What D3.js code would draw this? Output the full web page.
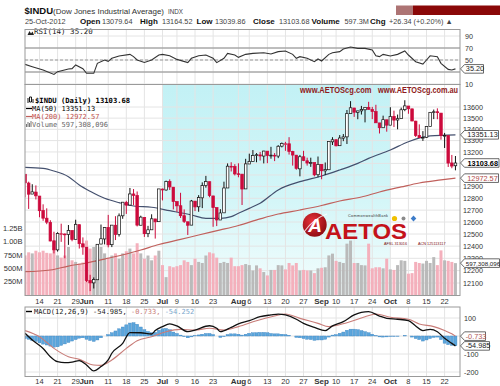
<!DOCTYPE html>
<html>
<head>
<meta charset="utf-8">
<script src="https://cdn.jsdelivr.net/npm/d3@7/dist/d3.min.js"></script>
<style>
html,body{margin:0;padding:0;background:#fff;}
svg{display:block;}
text{font-family:"Liberation Sans",Arial,sans-serif;}
.mono{font-family:"DejaVu Sans Mono",monospace;}
</style>
</head>
<body>
<svg id="chart" width="500" height="386"></svg>
<script>
// ---------------- DATA ----------------
const dates = ["05-08","05-09","05-10","05-11","05-14","05-15","05-16","05-17","05-18","05-21","05-22","05-23","05-24","05-25","05-29","05-30","05-31","06-01","06-04","06-05","06-06","06-07","06-08","06-11","06-12","06-13","06-14","06-15","06-18","06-19","06-20","06-21","06-22","06-25","06-26","06-27","06-28","06-29","07-02","07-03","07-05","07-06","07-09","07-10","07-11","07-12","07-13","07-16","07-17","07-18","07-19","07-20","07-23","07-24","07-25","07-26","07-27","07-30","07-31","08-01","08-02","08-03","08-06","08-07","08-08","08-09","08-10","08-13","08-14","08-15","08-16","08-17","08-20","08-21","08-22","08-23","08-24","08-27","08-28","08-29","08-30","08-31","09-04","09-05","09-06","09-07","09-10","09-11","09-12","09-13","09-14","09-17","09-18","09-19","09-20","09-21","09-24","09-25","09-26","09-27","09-28","10-01","10-02","10-03","10-04","10-05","10-08","10-09","10-10","10-11","10-12","10-15","10-16","10-17","10-18","10-19","10-22","10-23","10-24","10-25"];
const opens = [13006,12930,12836,12853,12819,12696,12632,12597,12444,12369,12502,12500,12496,12529,12456,12578,12419,12391,12119,12101,12126,12417,12459,12555,12412,12573,12496,12652,12766,12743,12837,12823,12573,12639,12503,12535,12626,12603,12879,12871,12943,12895,12772,12737,12653,12602,12574,12776,12728,12804,12908,12942,12820,12721,12617,12677,12888,13075,13073,13010,13007,12880,13095,13117,13168,13174,13164,13207,13170,13171,13164,13251,13272,13272,13203,13172,13053,13158,13123,13104,13107,13002,13092,13035,13045,13289,13308,13255,13321,13333,13540,13591,13552,13565,13575,13597,13577,13559,13457,13414,13485,13437,13516,13483,13495,13576,13609,13583,13473,13346,13326,13329,13424,13551,13557,13545,13344,13344,13104,13079.64];
const highs = [13006,12942,12920,12910,12819,12749,12715,12615,12519,12515,12586,12505,12575,12530,12619,12578,12472,12391,12166,12145,12415,12579,12556,12660,12574,12649,12672,12767,12779,12888,12879,12858,12653,12640,12568,12665,12626,12880,12883,12951,12962,12895,12772,12847,12706,12602,12786,12777,12827,12936,12992,12942,12822,12721,12708,12942,13100,13110,13093,13101,13007,13140,13185,13217,13190,13200,13210,13207,13245,13190,13260,13283,13289,13330,13210,13173,13174,13210,13150,13150,13107,13160,13092,13108,13293,13330,13308,13349,13358,13573,13653,13592,13566,13610,13597,13647,13601,13620,13457,13522,13485,13598,13567,13532,13594,13661,13609,13586,13476,13444,13384,13425,13552,13577,13588,13545,13368,13344,13174,13164.52];
const lows = [12809,12710,12836,12790,12640,12610,12582,12440,12340,12355,12435,12300,12410,12440,12456,12380,12329,12107,12035,12056,12126,12416,12414,12390,12392,12450,12479,12627,12668,12741,12741,12563,12573,12476,12474,12535,12462,12603,12782,12865,12871,12706,12685,12634,12592,12492,12574,12692,12686,12717,12891,12809,12560,12566,12617,12677,12888,13030,12996,12980,12743,12880,13095,13117,13110,13125,13100,13102,13141,13120,13146,13240,13210,13177,13081,13045,12988,13120,13081,13070,12988,12980,12963,13000,13045,13261,13249,13255,13295,13270,13538,13511,13490,13532,13462,13577,13491,13457,13363,13414,13379,13437,13420,13400,13495,13562,13539,13473,13332,13326,13297,13324,13424,13491,13490,13308,13235,13069,13058,13039.86];
const closes = [12932,12835,12855,12821,12695,12632,12599,12442,12369,12504,12503,12496,12530,12455,12581,12420,12393,12119,12101,12128,12415,12461,12554,12411,12574,12496,12652,12767,12742,12837,12824,12574,12641,12503,12535,12627,12602,12880,12871,12944,12897,12772,12736,12653,12605,12573,12777,12727,12806,12909,12943,12823,12721,12617,12676,12888,13076,13073,13009,13008,12879,13096,13118,13169,13176,13165,13208,13169,13172,13165,13250,13275,13272,13204,13173,13057,13158,13125,13103,13107,13001,13091,13036,13047,13292,13307,13254,13323,13333,13540,13593,13553,13565,13578,13597,13579,13559,13458,13414,13486,13437,13515,13482,13495,13575,13610,13584,13474,13345,13326,13329,13424,13552,13557,13549,13344,13346,13103,13077,13103.68];
const prevClose0 = 13008.53;
const volumes = [742,800,780,830,800,830,790,780,873,742,700,740,900,650,620,590,610,1020,870,900,650,900,780,700,740,780,680,780,820,870,780,970,780,680,740,650,740,830,560,335,540,520,540,560,650,620,560,680,620,600,740,800,780,700,600,620,600,700,540,540,560,580,560,460,555,500,430,367,470,470,560,555,480,600,555,600,460,470,460,460,410,500,510,520,742,775,640,620,600,962,1020,600,600,560,555,962,500,520,520,500,680,480,470,560,650,640,400,410,620,600,590,640,600,710,560,836,650,640,620,597.3];

const ma50Dates = ["05-08","05-15","05-18","05-24","05-30","06-04","06-08","06-14","06-20","06-27","07-05","07-13","07-19","07-25","07-30","08-01","08-06","08-09","08-16","08-24","09-04","09-11","09-18","09-21","10-01","10-08","10-16","10-25"];
const ma50Vals = [13066,13057,13034,12985,12914,12860,12800,12763,12735,12724,12695,12659,12631,12631,12645,12673,12715,12758,12871,12942,12991,13043,13100,13144,13217,13290,13341,13351.13];
const ma200Dates = ["05-08","05-17","05-24","06-01","06-08","06-18","06-22","06-29","07-10","07-17","07-25","08-01","08-09","08-16","08-24","09-04","09-11","09-19","09-26","10-04","10-11","10-19","10-25"];
const ma200Vals = [12191,12205,12237,12262,12294,12335,12368,12413,12455,12492,12534,12571,12626,12667,12701,12739,12777,12811,12854,12897,12931,12957,12972.57];

const rsiDates = ["05-08","05-10","05-15","05-18","05-21","05-24","05-25","05-29","05-31","06-01","06-05","06-06","06-08","06-11","06-12","06-14","06-19","06-20","06-21","06-25","06-27","06-29","07-02","07-05","07-09","07-12","07-13","07-17","07-19","07-23","07-24","07-26","07-27","07-31","08-01","08-03","08-07","08-10","08-14","08-16","08-20","08-22","08-23","08-24","08-28","08-30","08-31","09-04","09-06","09-07","09-11","09-12","09-14","09-18","09-20","09-24","09-25","09-26","09-27","10-01","10-03","10-05","10-08","10-10","10-12","10-15","10-16","10-18","10-19","10-23","10-24","10-25"];
const rsiVals = [42.8,38.9,33.3,26,30.6,35,35.6,41.7,35.6,27.8,27.8,44.4,50,47.8,52.8,56.7,59.4,55.6,50,46,50,58.3,59.4,57,51,45.6,52.8,57,58.3,52.8,45.6,52.8,61,58.3,54.4,59.4,61,62.2,60,63.9,65,59.4,52.8,55.6,52.8,47.2,51.7,48.3,59.4,62,63.9,68.3,71.7,69.4,69.4,66.7,57,55.6,59.4,56.7,59.4,65,58.3,47.2,43.3,50,57,55.6,44.4,34.4,33.3,35.2];

const macdDates = ["05-08","05-10","05-15","05-17","05-21","05-23","05-25","05-30","06-01","06-05","06-07","06-11","06-12","06-15","06-19","06-22","06-27","06-28","07-02","07-05","07-09","07-12","07-16","07-20","07-24","07-25","07-30","08-01","08-06","08-09","08-14","08-16","08-20","08-23","08-27","08-30","09-05","09-07","09-12","09-17","09-19","09-21","09-26","09-28","10-03","10-08","10-10","10-12","10-16","10-18","10-22","10-24","10-25"];
const macdVals = [15,-22,-69,-115,-143,-148,-145,-137,-161,-194,-170,-133,-96,-41,19,18,11,30,52,67,56,24,33,57,43,24,48,67,85,107,117,122,117,93,70,48,30,56,80,117,131,135,111,98,93,85,56,30,37,24,-13,-41,-54.985];
const signalDates = ["05-08","05-14","05-18","05-24","05-30","06-05","06-07","06-12","06-18","06-21","06-27","07-03","07-10","07-16","07-20","07-26","08-01","08-08","08-15","08-20","08-24","08-31","09-06","09-13","09-20","09-25","10-01","10-08","10-11","10-17","10-22","10-24","10-25"];
const signalVals = [30,-4,-69,-115,-130,-161,-163,-133,-69,-26,-4,24,37,33,43,33,52,85,111,122,98,70,52,74,107,122,104,93,67,52,30,12,-0.733];
const histVals = [-15,-18,-25,-30,-38,-45,-50,-56,-62,-60,-52,-44,-36,-28,-20,-12,-10,-18,-25,-30,-22,-10,0,8,18,28,40,50,62,72,74,65,50,35,25,18,20,32,40,42,35,22,14,5,-4,-10,-5,2,6,10,14,14,8,0,-8,-4,8,12,12,10,5,10,15,18,18,20,20,18,14,12,12,10,8,4,0,-8,-10,-14,-18,-20,-24,-22,-22,-18,-6,5,8,15,22,32,38,38,35,30,24,18,10,2,-5,-6,-5,-3,-3,-2,0,3,0,-6,-14,-20,-28,-22,-14,-8,-6,-20,-40,-48,-52,-54.252];

const tickDates = ["05-14","05-21","05-29","06-01","06-11","06-18","06-25","07-02","07-09","07-16","07-23","08-01","08-06","08-13","08-20","08-27","09-04","09-10","09-17","09-24","10-01","10-08","10-15","10-22"];
const tickLabels = ["14","21","29","Jun","11","18","25","Jul","9","16","23","Aug","6","13","20","27","Sep","10","17","24","Oct","8","15","22"];
const priceTicks = [12100,12200,12300,12400,12500,12600,12700,12800,12900,13000,13100,13200,13300,13400,13500,13600];
const priceTickLabels = [12100,12200,12300,12400,12500,12600,12700,12800,12900,13200,13300,13400,13500,13600];
const volTicks = [250,500,750,1000,1250];
const volTickLabels = ["250M","500M","750M","1.00B","1.25B"];
const rsiTicks = [10,30,50,70,90];
const rsiTickLabels = [10,50,70,90];
const macdTicks = [100,-100,-200];
const shadeRange = ["07-02","10-01"];

// ---------------- LAYOUT ----------------
const L = 25, R = 460;
const rsiTop = 29.5, rsiBot = 84.5, mainTop = 84.5, mainBot = 295.5, macdTop = 307, macdBot = 376.5;

const svg = d3.select("#chart");
const defs = svg.append("defs");

const x = d3.scalePoint().domain(dates).range([25.03, 455.45]);
const yP = d3.scaleLog().domain([12100, 13600]).range([283, 107]);
const yV = d3.scaleLinear().domain([0, 1250]).range([295, 228.3]);
const yR = d3.scaleLinear().domain([0, 100]).range([90, 30]);
const yM = d3.scaleLinear().domain([-100, 100]).range([354, 318]);

function clip(id, y0, y1) {
  defs.append("clipPath").attr("id", id).append("rect")
    .attr("x", L).attr("y", y0).attr("width", R - L).attr("height", y1 - y0);
}
clip("cRsi", rsiTop, rsiBot); clip("cMain", mainTop, mainBot); clip("cMacd", macdTop, macdBot);

const gr = defs.append("linearGradient").attr("id", "cyan").attr("x1", 0).attr("y1", 0).attr("x2", 0).attr("y2", 1);
gr.append("stop").attr("offset", "0%").attr("stop-color", "#c2f1f5");
gr.append("stop").attr("offset", "55%").attr("stop-color", "#d4f6f8");
gr.append("stop").attr("offset", "100%").attr("stop-color", "#f4fdfd");

const rg = defs.append("radialGradient").attr("id", "logoRed").attr("cx", "40%").attr("cy", "35%").attr("r", "70%");
rg.append("stop").attr("offset", "0%").attr("stop-color", "#e8323a");
rg.append("stop").attr("offset", "100%").attr("stop-color", "#8c0a10");

const ohlc = dates.map((d, i) => ({
  d, o: opens[i], h: highs[i], l: lows[i], c: closes[i], v: volumes[i],
  pc: i ? closes[i - 1] : prevClose0
}));
const RED = "#cc0a3c";
const GRID = "#e4e4e4";
const BORDER = "#9a9a9a";

function vgrid(g, y0, y1) {
  g.append("g").selectAll("line").data(tickDates).join("line")
    .attr("x1", d => x(d)).attr("x2", d => x(d)).attr("y1", y0).attr("y2", y1)
    .attr("stroke", GRID).attr("stroke-width", 1);
}

// ---------------- MAIN PANEL ----------------
const gMain = svg.append("g");
gMain.append("rect").attr("x", x(shadeRange[0])).attr("y", mainTop)
  .attr("width", x(shadeRange[1]) - x(shadeRange[0])).attr("height", mainBot - mainTop)
  .attr("fill", "url(#cyan)");
gMain.append("g").selectAll("line").data(priceTicks).join("line")
  .attr("x1", L).attr("x2", R).attr("y1", d => yP(d)).attr("y2", d => yP(d))
  .attr("stroke", GRID);
vgrid(gMain, mainTop, mainBot);

const mainClip = gMain.append("g").attr("clip-path", "url(#cMain)");
mainClip.append("g").selectAll("rect").data(ohlc).join("rect")
  .attr("x", d => x(d.d) - 1.5).attr("width", 3)
  .attr("y", d => yV(d.v)).attr("height", d => yV(0) - yV(d.v))
  .attr("fill", d => d.c < d.pc ? "#f4b0bc" : "#bababa");

// logo
const logo = gMain.append("g");
logo.append("circle").attr("cx", 314.7).attr("cy", 224.7).attr("r", 12).attr("fill", "url(#logoRed)");
logo.append("path").attr("d", "M304,232 Q314,218 327,214").attr("fill", "none").attr("stroke", "#fff").attr("stroke-width", 1.2).attr("opacity", 0.8);
logo.append("text").attr("x", 315).attr("y", 232).attr("text-anchor", "middle")
  .attr("font-size", 19).attr("font-weight", "bold").attr("font-style", "italic").attr("fill", "#fff").text("A");
logo.append("text").attr("x", 325).attr("y", 238.5).attr("font-size", 22).attr("font-weight", "bold")
  .attr("fill", "#c4121a").attr("textLength", 82).attr("lengthAdjust", "spacingAndGlyphs").text("AETOS");
logo.append("text").attr("x", 348).attr("y", 217.3).attr("font-size", 3.8).attr("fill", "#333")
  .attr("textLength", 40).text("CommonwealthBank");
logo.append("circle").attr("cx", 394.5).attr("cy", 218.5).attr("r", 2.6).attr("fill", "#f0c000");
logo.append("circle").attr("cx", 403.5).attr("cy", 218.5).attr("r", 2).attr("fill", "#8a8a8a");
logo.append("path").attr("d", "M413.5,215.5 L416.3,218.5 L413.5,221.5 L410.7,218.5 Z").attr("fill", "#3d7cc9");
logo.append("text").attr("x", 384).attr("y", 245).attr("font-size", 3.8).attr("fill", "#7a0a10").text("AFSL 313016");
logo.append("text").attr("x", 418).attr("y", 245).attr("font-size", 3.8).attr("fill", "#7a0a10").text("ACN 125113117");

// moving averages
const lineP = d3.line().x(d => x(d[0])).y(d => yP(d[1])).curve(d3.curveMonotoneX);
mainClip.append("path").datum(ma200Dates.map((d, i) => [d, ma200Vals[i]]))
  .attr("d", lineP).attr("fill", "none").attr("stroke", "#c0605c").attr("stroke-width", 1.2);
mainClip.append("path").datum(ma50Dates.map((d, i) => [d, ma50Vals[i]]))
  .attr("d", lineP).attr("fill", "none").attr("stroke", "#44506e").attr("stroke-width", 1.2);

// candles
const cw = 2.6;
const cg = mainClip.append("g").selectAll("g").data(ohlc).join("g");
cg.append("line").attr("x1", d => x(d.d)).attr("x2", d => x(d.d))
  .attr("y1", d => yP(d.h)).attr("y2", d => yP(d.l))
  .attr("stroke", d => d.c >= d.pc ? "#111" : RED).attr("stroke-width", 1);
cg.append("rect").attr("x", d => x(d.d) - cw / 2).attr("width", cw)
  .attr("y", d => yP(Math.max(d.o, d.c)))
  .attr("height", d => Math.max(0.8, yP(Math.min(d.o, d.c)) - yP(Math.max(d.o, d.c))))
  .attr("fill", d => d.c >= d.o ? "#fff" : (d.c >= d.pc ? "#111" : RED))
  .attr("stroke", d => d.c >= d.pc ? "#111" : RED).attr("stroke-width", 0.7);

// watermark (horizontally condensed)
gMain.append("text").attr("transform", "translate(300,93) scale(0.837,1)").attr("font-size", 9).attr("font-weight", "bold")
  .attr("fill", "#8e1a20").text("www.AETOScg.com");
gMain.append("text").attr("transform", "translate(378,93) scale(0.815,1)").attr("font-size", 9).attr("font-weight", "bold")
  .attr("fill", "#8e1a20").text("www.AETOScg.com.au");

// legend main
const lg = gMain.append("g").attr("class", "mono").attr("font-size", 7);
lg.append("path").attr("d", "M28,98 v5 M29.5,97 h2 v5 h-2z M33,99 v4").attr("stroke", "#000").attr("fill", "none").attr("stroke-width", 0.9);
lg.append("text").attr("class", "mono").attr("x", 35).attr("y", 103).attr("font-weight", "bold").attr("font-size", 7.2).attr("fill", "#000").text("$INDU (Daily) 13103.68");
lg.append("line").attr("x1", 26).attr("x2", 32).attr("y1", 108.5).attr("y2", 108.5).attr("stroke", "#000").attr("stroke-width", 1.2);
lg.append("text").attr("class", "mono").attr("x", 32).attr("y", 111).attr("font-size", 7).attr("fill", "#000").text("MA(50) 13351.13");
lg.append("line").attr("x1", 26).attr("x2", 32).attr("y1", 116.5).attr("y2", 116.5).attr("stroke", "#c0605c").attr("stroke-width", 1.2);
lg.append("text").attr("class", "mono").attr("x", 32).attr("y", 119).attr("font-size", 7).attr("fill", "#c0504c").text("MA(200) 12972.57");
lg.append("path").attr("d", "M26.5,127 v-3 M28,127 v-5 M29.5,127 v-4 M31,127 v-6").attr("stroke", "#777").attr("stroke-width", 1);
lg.append("text").attr("class", "mono").attr("x", 32).attr("y", 127).attr("font-size", 7).attr("fill", "#666").text("Volume 597,308,096");

// ---------------- RSI PANEL ----------------
const gR = svg.append("g");
gR.append("g").selectAll("line").data(rsiTicks).join("line")
  .attr("x1", L).attr("x2", R).attr("y1", d => yR(d)).attr("y2", d => yR(d)).attr("stroke", GRID);
vgrid(gR, rsiTop, rsiBot);
gR.append("line").attr("x1", L).attr("x2", R).attr("y1", yR(70)).attr("y2", yR(70)).attr("stroke", "#8a8a8a").attr("stroke-width", 1);
gR.append("line").attr("x1", L).attr("x2", R).attr("y1", yR(30)).attr("y2", yR(30)).attr("stroke", "#8a8a8a").attr("stroke-width", 1);
gR.append("line").attr("x1", L).attr("x2", R).attr("y1", yR(50)).attr("y2", yR(50)).attr("stroke", "#999").attr("stroke-dasharray", "3,2");
gR.append("g").attr("clip-path", "url(#cRsi)").append("path")
  .datum(rsiDates.map((d, i) => [d, rsiVals[i]]))
  .attr("d", d3.line().x(d => x(d[0])).y(d => yR(d[1])))
  .attr("fill", "none").attr("stroke", "#333").attr("stroke-width", 1.1);
gR.append("path").attr("d", "M27.5,35 l2,-4 l1.5,2.5 l1.5,-2 l1.5,3.5 z").attr("fill", "#222");
gR.append("text").attr("class", "mono").attr("x", 34).attr("y", 33.5).attr("font-size", 7.5).attr("fill", "#222").text("RSI(14) 35.20");

// ---------------- MACD PANEL ----------------
const gM = svg.append("g");
gM.append("g").selectAll("line").data([100, 0, -100, -200]).join("line")
  .attr("x1", L).attr("x2", R).attr("y1", d => yM(d)).attr("y2", d => yM(d)).attr("stroke", GRID);
vgrid(gM, macdTop, macdBot);
const mClip = gM.append("g").attr("clip-path", "url(#cMacd)");
mClip.append("g").selectAll("rect").data(dates).join("rect")
  .attr("x", d => x(d) - 1.5).attr("width", 3)
  .attr("y", (d, i) => Math.min(yM(0), yM(histVals[i])))
  .attr("height", (d, i) => Math.abs(yM(histVals[i]) - yM(0)))
  .attr("fill", "#5ba6dc").attr("stroke", "#3f86c2").attr("stroke-width", 0.4);
const lineM = d3.line().x(d => x(d[0])).y(d => yM(d[1])).curve(d3.curveMonotoneX);
mClip.append("path").datum(signalDates.map((d, i) => [d, signalVals[i]]))
  .attr("d", lineM).attr("fill", "none").attr("stroke", "#c87c78").attr("stroke-width", 1.1);
mClip.append("path").datum(macdDates.map((d, i) => [d, macdVals[i]]))
  .attr("d", lineM).attr("fill", "none").attr("stroke", "#111").attr("stroke-width", 1.3);
gM.append("line").attr("x1", 26).attr("x2", 32).attr("y1", 311.5).attr("y2", 311.5).attr("stroke", "#000").attr("stroke-width", 1.4);
const mt = gM.append("text").attr("class", "mono").attr("x", 34).attr("y", 314).attr("font-size", 7);
mt.append("tspan").attr("fill", "#222").text("MACD(12,26,9) -54.985,");
mt.append("tspan").attr("fill", "#c87c78").text(" -0.733,");
mt.append("tspan").attr("fill", "#7aa6cc").text(" -54.252");

// ---------------- BORDERS ----------------
[[rsiTop, rsiBot], [mainTop, mainBot], [macdTop, macdBot]].forEach(([a, b]) => {
  svg.append("rect").attr("x", L).attr("y", a).attr("width", R - L).attr("height", b - a)
    .attr("fill", "none").attr("stroke", BORDER).attr("stroke-width", 1);
});

// ---------------- AXES ----------------
function dateAxis(yb) {
  const g = svg.append("g");
  g.selectAll("text").data(tickDates).join("text")
    .attr("x", d => x(d)).attr("y", yb).attr("text-anchor", "middle")
    .attr("font-size", (d, i) => /[A-Z]/.test(tickLabels[i]) ? 8 : 7.5)
    .attr("font-weight", (d, i) => /[A-Z]/.test(tickLabels[i]) ? "bold" : "normal")
    .attr("fill", "#333").text((d, i) => tickLabels[i]);
}
dateAxis(303.5);
dateAxis(383.5);

const ra = svg.append("g").attr("font-size", 7.2).attr("fill", "#333");
ra.selectAll(".p").data(priceTickLabels).join("text").attr("x", 463).attr("y", d => yP(d) + 2.6).text(d => d);
ra.selectAll(".r").data(rsiTickLabels).join("text").attr("x", 465).attr("y", d => yR(d) + 2.6).text(d => d);
ra.selectAll(".m").data(macdTicks).join("text").attr("x", 464).attr("y", d => yM(d) + 2.6).text(d => d);
svg.append("g").attr("font-size", 7.5).attr("fill", "#333").attr("text-anchor", "end")
  .selectAll("text").data(volTicks).join("text").attr("x", 22.5).attr("y", d => yV(d) + 2.7)
  .text((d, i) => volTickLabels[i]);

function valBox(y, txt, w, opt) {
  const x0 = 460.5, h = 8.6;
  svg.append("path").attr("d", `M${x0},${y} L${x0 + 4},${y - h / 2} L${x0 + w},${y - h / 2} L${x0 + w},${y + h / 2} L${x0 + 4},${y + h / 2} Z`)
    .attr("fill", "#fff").attr("stroke", "#444").attr("stroke-width", 0.8);
  svg.append("text").attr("x", x0 + 3 + w / 2).attr("y", y + 2.6).attr("text-anchor", "middle")
    .attr("font-size", opt.fs || 7.3).attr("font-weight", opt.bold ? "bold" : "normal")
    .attr("fill", opt.color || "#222").text(txt);
}
valBox(yR(35.2), "35.20", 23, {});
valBox(yP(13351.13), "13351.13", 38, {});
valBox(yP(12972.57), "12972.57", 38, { color: "#b04844" });
valBox(yP(13103.68), "13103.68", 38.5, { bold: true, color: "#000" });
valBox(yV(597.308), "597,308,096", 39, { fs: 6.2 });
valBox(yM(-0.733), "-0.733", 25, { color: "#b05a56" });
valBox(yM(-54.985), "-54.985", 29, {});

// ---------------- HEADER ----------------
const hd = svg.append("g");
hd.append("text").attr("x", 24.5).attr("y", 13.5).attr("font-size", 9.5).attr("font-weight", "bold").attr("fill", "#111").text("$INDU");
hd.append("text").attr("x", 53).attr("y", 13.5).attr("font-size", 8).attr("fill", "#333").text("(Dow Jones Industrial Average)");
hd.append("text").attr("x", 168).attr("y", 13.5).attr("font-size", 6.3).attr("fill", "#444").text("INDX");
const segs = [
  [25, "25-Oct-2012", false], [80, "Open", true], [102, "13079.64", false],
  [140, "High", true], [162, "13164.52", false], [196.5, "Low", true], [215, "13039.86", false],
  [253, "Close", true], [279, "13103.68", false], [311.5, "Volume", true], [344.5, "597.3M", false],
  [370, "Chg", true], [389, "+26.34 (+0.20%) \u25B2", false]
];
hd.selectAll(".s").data(segs).join("text").attr("x", d => d[0]).attr("y", 23.5)
  .attr("font-size", d => d[2] ? 8 : 7.3).attr("font-weight", d => d[2] ? "bold" : "normal")
  .attr("fill", d => d[2] ? "#111" : "#444").text(d => d[1]);
hd.append("rect").attr("x", 396).attr("y", 5.5).attr("width", 17).attr("height", 9.5).attr("fill", "#ad7474");
hd.append("rect").attr("x", 413).attr("y", 5.5).attr("width", 87).attr("height", 9.5).attr("fill", "#8a0808");
</script>
</body>
</html>
